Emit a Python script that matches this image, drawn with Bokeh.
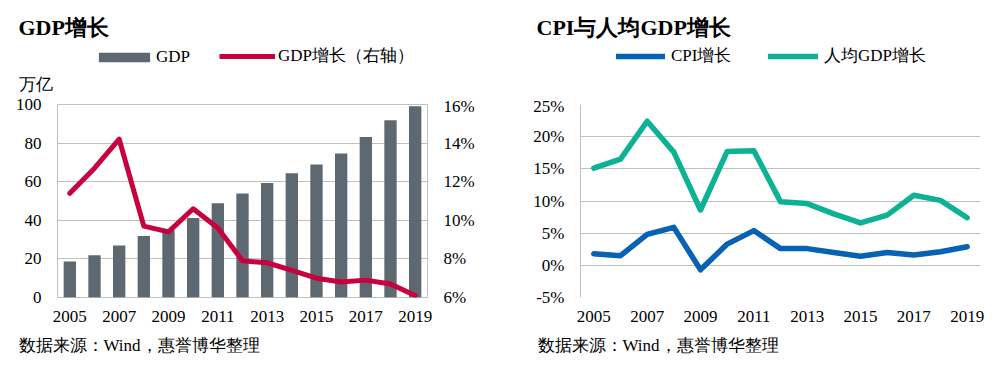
from bokeh.plotting import figure
from bokeh.layouts import row, column
from bokeh.models import (Range1d, LinearAxis, FixedTicker, PrintfTickFormatter,
                          Legend, LegendItem, Label, ColumnDataSource)
from bokeh.embed import file_html
from bokeh.resources import INLINE

# ---------------- data ----------------
years = list(range(2005, 2020))
gdp = [18.7, 21.9, 27.0, 31.9, 34.9, 41.2, 48.8, 53.9, 59.3, 64.4, 68.9, 74.6, 83.2, 91.9, 99.1]
gdp_growth = [11.4, 12.7, 14.2, 9.7, 9.4, 10.6, 9.6, 7.9, 7.8, 7.4, 7.0, 6.8, 6.9, 6.7, 6.1]
cpi = [1.8, 1.5, 4.8, 5.9, -0.7, 3.3, 5.4, 2.6, 2.6, 2.0, 1.4, 2.0, 1.6, 2.1, 2.9]
pc_gdp = [15.1, 16.5, 22.4, 17.6, 8.6, 17.7, 17.8, 9.9, 9.6, 8.0, 6.6, 7.8, 10.9, 10.1, 7.4]
year_ticks = [2005, 2007, 2009, 2011, 2013, 2015, 2017, 2019]

title_left = "GDP增长"
title_right = "CPI与人均GDP增长"
unit_left = "万亿"
source_text = "数据来源：Wind，惠誉博华整理"
legend_labels = ["GDP", "GDP增长（右轴）", "CPI增长", "人均GDP增长"]

FONT = "Liberation Serif"
GRID = "#c0c0c0"
BAR = "#5e6870"
RED = "#c8003e"
BLUE = "#0562b4"
GREEN = "#0db294"
FS = "17px"

src = ColumnDataSource(dict(year=years, gdp=gdp, gg=gdp_growth, cpi=cpi, pc=pc_gdp))


def style_axis(ax):
    ax.axis_line_color = None
    ax.major_tick_line_color = None
    ax.minor_tick_line_color = None
    ax.major_tick_in = 0
    ax.major_tick_out = 0
    ax.major_label_text_font = FONT
    ax.major_label_text_font_size = FS
    ax.major_label_text_color = "#000000"


def blank_fig(w, h):
    f = figure(width=w, height=h, output_backend="svg", toolbar_location=None, title=None,
               x_range=Range1d(0, w), y_range=Range1d(h, 0),
               x_axis_type=None, y_axis_type=None, min_border=0)
    f.outline_line_color = None
    f.background_fill_color = None
    f.border_fill_color = None
    f.grid.visible = False
    return f


def add_text(f, x, y, text, size=FS, bold=False):
    f.add_layout(Label(x=x, y=y, text=text, text_font=FONT, text_font_size=size,
                       text_font_style="bold" if bold else "normal",
                       text_baseline="middle", text_align="left", text_color="#000000"))


def add_legend(f, label, renderer, x, gw, gh, standoff):
    f.add_layout(Legend(items=[LegendItem(label=label, renderers=[renderer])],
                        location=(x, 29), orientation="horizontal",
                        glyph_width=gw, glyph_height=gh, label_standoff=standoff,
                        padding=0, margin=0, spacing=0,
                        border_line_color=None, background_fill_alpha=0,
                        label_text_font=FONT, label_text_font_size=FS,
                        label_text_color="#000000", label_height=20))


# ---------------- header (titles + legends) ----------------
# legend proxies: same data/styles as the chart glyphs, lying outside this strip's ranges
head = blank_fig(996, 96)
d_bar = head.vbar(x="year", top="gdp", width=0.5, source=src, fill_color=BAR, line_color=None)
d_red = head.line(x="year", y="gg", source=src, line_color=RED, line_width=5, line_cap="butt")
d_blue = head.line(x="year", y="cpi", source=src, line_color=BLUE, line_width=5.5, line_cap="round")
d_green = head.line(x="year", y="pc", source=src, line_color=GREEN, line_width=5.5, line_cap="round")

add_legend(head, legend_labels[0], d_bar, 92, 64, 12, 0)
add_legend(head, legend_labels[1], d_red, 219, 56, 20, 3)
add_legend(head, legend_labels[2], d_blue, 616, 49, 20, 6)
add_legend(head, legend_labels[3], d_green, 768, 50, 20, 6)

add_text(head, 18, 27, title_left, size="22px", bold=True)
add_text(head, 536, 27, title_right, size="22px", bold=True)
add_text(head, 18, 84, unit_left)

# ---------------- left chart ----------------
p1 = figure(width=502, height=237, output_backend="svg", toolbar_location=None, title=None,
            x_range=Range1d(2004.5, 2019.5), y_range=Range1d(0, 100),
            min_border_left=57, min_border_right=75, min_border_top=8, min_border_bottom=36)
p1.background_fill_color = None
p1.border_fill_color = None
p1.outline_line_color = GRID
p1.xgrid.grid_line_color = None
p1.ygrid.grid_line_color = GRID
p1.ygrid.ticker = FixedTicker(ticks=[0, 20, 40, 60, 80, 100])
p1.extra_y_ranges = {"pct": Range1d(6, 16)}

p1.xaxis.ticker = FixedTicker(ticks=year_ticks)
p1.yaxis.ticker = FixedTicker(ticks=[0, 20, 40, 60, 80, 100])
style_axis(p1.xaxis[0])
style_axis(p1.yaxis[0])
p1.yaxis.major_label_standoff = 16
p1.xaxis.major_label_standoff = 13

ax_r = LinearAxis(y_range_name="pct", ticker=FixedTicker(ticks=[6, 8, 10, 12, 14, 16]),
                  formatter=PrintfTickFormatter(format="%d%%"))
style_axis(ax_r)
ax_r.major_label_standoff = 16
p1.add_layout(ax_r, "right")

p1.vbar(x="year", top="gdp", width=0.5, source=src, fill_color=BAR, line_color=None)
p1.line(x="year", y="gg", source=src, y_range_name="pct", line_color=RED,
        line_width=5, line_join="round", line_cap="round")

# ---------------- right chart ----------------
p2 = figure(width=494, height=237, output_backend="svg", toolbar_location=None, title=None,
            x_range=Range1d(2004.5, 2019.5), y_range=Range1d(-5, 25),
            min_border_left=78, min_border_right=16, min_border_top=8, min_border_bottom=36)
p2.background_fill_color = None
p2.border_fill_color = None
p2.outline_line_color = None
p2.xgrid.grid_line_color = None
p2.ygrid.grid_line_color = GRID
p2.ygrid.ticker = FixedTicker(ticks=[-5, 0, 5, 10, 15, 20, 25])
p2.xaxis.ticker = FixedTicker(ticks=year_ticks)
p2.yaxis.ticker = FixedTicker(ticks=[-5, 0, 5, 10, 15, 20, 25])
p2.yaxis.formatter = PrintfTickFormatter(format="%d%%")
style_axis(p2.xaxis[0])
style_axis(p2.yaxis[0])
p2.yaxis.axis_line_color = GRID
p2.yaxis.major_label_standoff = 16
p2.xaxis.major_label_standoff = 13

p2.line(x="year", y="cpi", source=src, line_color=BLUE, line_width=5.5,
        line_join="round", line_cap="round")
p2.line(x="year", y="pc", source=src, line_color=GREEN, line_width=5.5,
        line_join="round", line_cap="round")

# ---------------- footer (sources) ----------------
foot = blank_fig(996, 30)
add_text(foot, 18, 12, source_text)
add_text(foot, 537, 12, source_text)

layout = column(head, row(p1, p2), foot)
open("out.html", "w").write(file_html(layout, INLINE))
